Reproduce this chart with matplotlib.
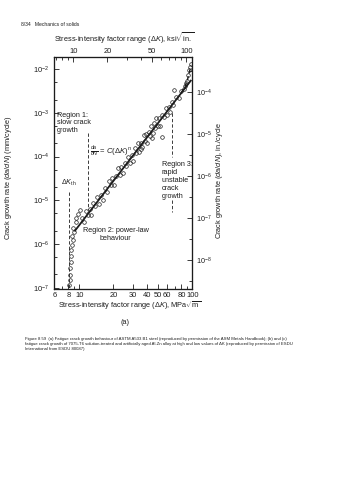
import numpy as np
import matplotlib
matplotlib.use("Agg")
import matplotlib.pyplot as plt
from matplotlib.ticker import LogLocator, NullFormatter, FixedFormatter

plt.rcParams['font.family'] = ['Liberation Sans', 'DejaVu Sans']
plt.rcParams['mathtext.fontset'] = 'custom'
plt.rcParams['mathtext.rm'] = 'Liberation Sans'
plt.rcParams['mathtext.it'] = 'Liberation Sans:italic'
plt.rcParams['mathtext.bf'] = 'Liberation Sans:bold'

ink = '#1c1c1c'

#---------------- data: dK in MPa sqrt(m), da/dN in mm/cycle ----------------
# near-threshold points (region 1)
k_thresh = [8.17, 8.2, 8.2, 8.3, 8.35, 8.4, 8.45, 8.55, 8.75, 8.55, 8.95, 8.75, 9.3, 9.4, 9.8, 10.2]
da_thresh = [1.12e-7, 1.5e-7, 1.95e-7, 2.8e-7, 3.9e-7, 5.4e-7, 7.4e-7, 9.5e-7,
             1.26e-6, 1.55e-6, 1.9e-6, 2.35e-6, 3.2e-6, 4.0e-6, 4.9e-6, 6.0e-6]

# power-law points (region 2)
k_paris = [10.5, 11, 11.5, 12, 12.3, 12.8, 13.2, 13.8, 14.3, 15, 15.5, 16.2, 17, 17.5,
           18.3, 19, 19.5, 20.3, 21, 22, 22.8, 23.5, 24.5, 25.5, 26, 27, 28, 29, 30,
           31, 32, 33, 34, 35, 36, 37, 38, 39, 40, 41, 42, 43.5, 45, 46, 47, 48, 50,
           51, 52, 54, 56, 58, 60, 62, 64, 66, 68, 72, 76, 80, 53.5, 68.7, 35, 44]
da_paris = [4.0e-6, 3.1e-6, 5.7e-6, 4.5e-6, 6.2e-6, 4.7e-6, 8.5e-6, 7.2e-6, 1.2e-5,
            8.3e-6, 1.3e-5, 1.0e-5, 1.9e-5, 1.55e-5, 2.8e-5, 2.2e-5, 3.2e-5, 2.2e-5,
            3.55e-5, 5.4e-5, 3.8e-5, 5.8e-5, 4.2e-5, 7.3e-5, 6.2e-5, 1.0e-4, 7.1e-5,
            1.07e-4, 7.9e-5, 1.55e-4, 1.2e-4, 2.0e-4, 1.3e-4, 2.05e-4, 1.7e-4, 3.05e-4,
            2.25e-4, 3.25e-4, 2.1e-4, 3.7e-4, 2.95e-4, 5.1e-4, 3.4e-4, 5.8e-4, 4.5e-4,
            7.5e-4, 5.1e-4, 7.8e-4, 5.1e-4, 9.0e-4, 7.9e-4, 1.3e-3, 9.1e-4, 1.38e-3,
            1.07e-3, 1.8e-3, 1.55e-3, 2.3e-3, 2.15e-3, 3.15e-3, 2.75e-4, 3.4e-3,
            1.5e-4, 2.6e-4]

# fast fracture points (region 3)
k_fast = [84, 86, 88, 90, 92, 94, 96, 97]
da_fast = [3.6e-3, 4.2e-3, 4.9e-3, 5.5e-3, 7.5e-3, 9.5e-3, 1.15e-2, 1.35e-2]

# Paris law fit da/dN = C (dK)^n
paris_C = 1.21e-9
paris_n = 3.35
paris_range = [9.15, 97]

# acceleration towards K_c
k_accel = [80, 86, 91, 96]
da_accel = [2.9e-3, 4.0e-3, 6.0e-3, 1.05e-2]

# region boundaries (dashed markers)
k_th = 8.1
k_12 = 12.0
k_23 = 65.5

bottom_ticks = [6, 8, 10, 20, 30, 40, 50, 60, 80, 100]
top_ticks = [10, 20, 50, 100]
top_scale = 1.131          # ksi sqrt(in) scale on top edge

#---------------------------------- figure ----------------------------------
fig = plt.figure(figsize=(3.38, 4.80), dpi=100)
ax = fig.add_axes([54.3 / 338, 1 - 288.5 / 480, 138 / 338, 231.5 / 480])

ax.set_xscale('log')
ax.set_yscale('log')
ax.set_xlim(6, 100)
ax.set_ylim(10 ** -7.02, 10 ** -1.72)

# measured points
k_all = k_thresh + k_paris + k_fast
da_all = da_thresh + da_paris + da_fast
ax.plot(k_all, da_all, 'o', mfc='none', mec=ink, ms=2.6, mew=0.5)

# power-law line
k_line = np.array(paris_range)
ax.plot(k_line, paris_C * k_line ** paris_n, color=ink, lw=1.3)
ax.plot(k_accel, da_accel, color=ink, lw=1.0, ls=(0, (3, 2)))

# dashed region markers
dash = dict(color=ink, lw=0.6, ls=(0, (4, 2.5)))
ax.plot([k_th, k_th], [10 ** -4.82, 1e-7], **dash)
ax.plot([k_12, k_12], [10 ** -3.46, 10 ** -5.22], **dash)
ax.plot([k_23, k_23], [10 ** -3.0, 10 ** -4.0], **dash)
ax.plot([k_23, k_23], [10 ** -5.0, 10 ** -5.26], **dash)

# annotations
fs = 5.2
ax.text(6.3, 10 ** -2.97, 'Region 1:\nslow crack\ngrowth', fontsize=fs, color=ink,
        va='top', ha='left', linespacing=1.15)
ax.text(k_th, 10 ** -4.72, r'$\Delta K_{\rm th}$', fontsize=fs, color=ink,
        ha='center', va='bottom')
ax.text(12.4, 10 ** -3.88, r'$\frac{da}{dN}$ = $C(\Delta K)^n$', fontsize=5.5,
        color=ink, ha='left', va='center')
ax.text(21, 10 ** -5.78, 'Region 2: power-law\nbehaviour', fontsize=fs, color=ink,
        ha='center', va='center', linespacing=1.3)
ax.text(53.5, 10 ** -4.1, 'Region 3:\nrapid\nunstable\ncrack\ngrowth', fontsize=fs,
        color=ink, ha='left', va='top', linespacing=1.2)

# bottom/left axes
ax.set_xticks(bottom_ticks)
ax.xaxis.set_major_formatter(FixedFormatter([str(t) for t in bottom_ticks]))
ax.set_xticks([7, 9, 70, 90], minor=True)
ax.xaxis.set_minor_formatter(NullFormatter())
ax.set_yticks(10.0 ** np.arange(-7, -1))
ax.yaxis.set_minor_locator(LogLocator(base=10, subs=[2, 5]))
ax.yaxis.set_minor_formatter(NullFormatter())
ax.tick_params(which='both', direction='in', colors=ink, width=0.6, labelsize=5.4)
ax.tick_params(which='major', length=3.5)
ax.tick_params(which='minor', length=2.2)
ax.tick_params(axis='x', pad=2.5)
ax.tick_params(axis='y', pad=4)

# top axis in ksi sqrt(in)
ax_top = ax.twiny()
ax_top.set_xscale('log')
ax_top.set_xlim(6 * top_scale, 100 * top_scale)
ax_top.set_xticks(top_ticks)
ax_top.xaxis.set_major_formatter(FixedFormatter([str(t) for t in top_ticks]))
ax_top.set_xticks([7, 8, 9, 30, 40, 60, 70, 80, 90], minor=True)
ax_top.xaxis.set_minor_formatter(NullFormatter())
ax_top.tick_params(which='both', direction='in', colors=ink, width=0.6, labelsize=5.4, pad=1.2)
ax_top.tick_params(which='major', length=3.5)
ax_top.tick_params(which='minor', length=2.2)

# right axis in in./cycle
ax_right = ax.twinx()
ax_right.set_yscale('log')
ax_right.set_ylim(10 ** -8.68, 10 ** -3.158)
ax_right.set_yticks(10.0 ** np.arange(-8, -3))
ax_right.yaxis.set_minor_locator(LogLocator(base=10, subs=[3.16]))
ax_right.yaxis.set_minor_formatter(NullFormatter())
ax_right.tick_params(which='both', direction='in', colors=ink, width=0.6, labelsize=5.2, pad=3)
ax_right.tick_params(which='major', length=3.5)
ax_right.tick_params(which='minor', length=2.2)

for a in (ax, ax_top, ax_right):
    for sp in a.spines.values():
        sp.set_linewidth(0.8)
        sp.set_color(ink)

# axis titles
lab = 5.3
fig.text(124 / 338, 1 - 38.5 / 480, r'Stress-intensity factor range ($\Delta K$), ksi$\sqrt{\rm in.}$',
         fontsize=lab, color=ink, ha='center', va='center')
fig.text(130 / 338, 1 - 305.7 / 480, r'Stress-intensity factor range ($\Delta K$), MPa$\sqrt{\rm m}$',
         fontsize=lab, color=ink, ha='center', va='center')
fig.text(9 / 338, 1 - 178 / 480, r'Crack growth rate ($da/dN$) (mm/cycle)',
         fontsize=lab, color=ink, ha='center', va='center', rotation=90)
fig.text(219.5 / 338, 1 - 180 / 480, r'Crack growth rate ($da/dN$), in./cycle',
         fontsize=lab, color=ink, ha='center', va='center', rotation=90)
fig.text(125 / 338, 1 - 323 / 480, '(a)', fontsize=5.3, color=ink, ha='center', va='center')

# page header and caption
fig.text(20.7 / 338, 1 - 25 / 480, '8/34   Mechanics of solids', fontsize=3.6, color=ink,
         ha='left', va='center')
caption_lines = [
    'Figure 8.59  (a) Fatigue crack growth behaviour of ASTM A533 B1 steel (reproduced by permission of the ASM Metals Handbook); (b) and (c)',
    'fatigue crack growth of 7075-T6 solution-treated and artificially aged Al-Zn alloy at high and low values of \u0394K (reproduced by permission of ESDU',
    'International from ESDU 80087)',
]
for i, line in enumerate(caption_lines):
    fig.text(25 / 338, 1 - (339 + 5.2 * i) / 480, line, fontsize=3.05, color=ink,
             ha='left', va='center')

fig.savefig('out.png', dpi=100)
